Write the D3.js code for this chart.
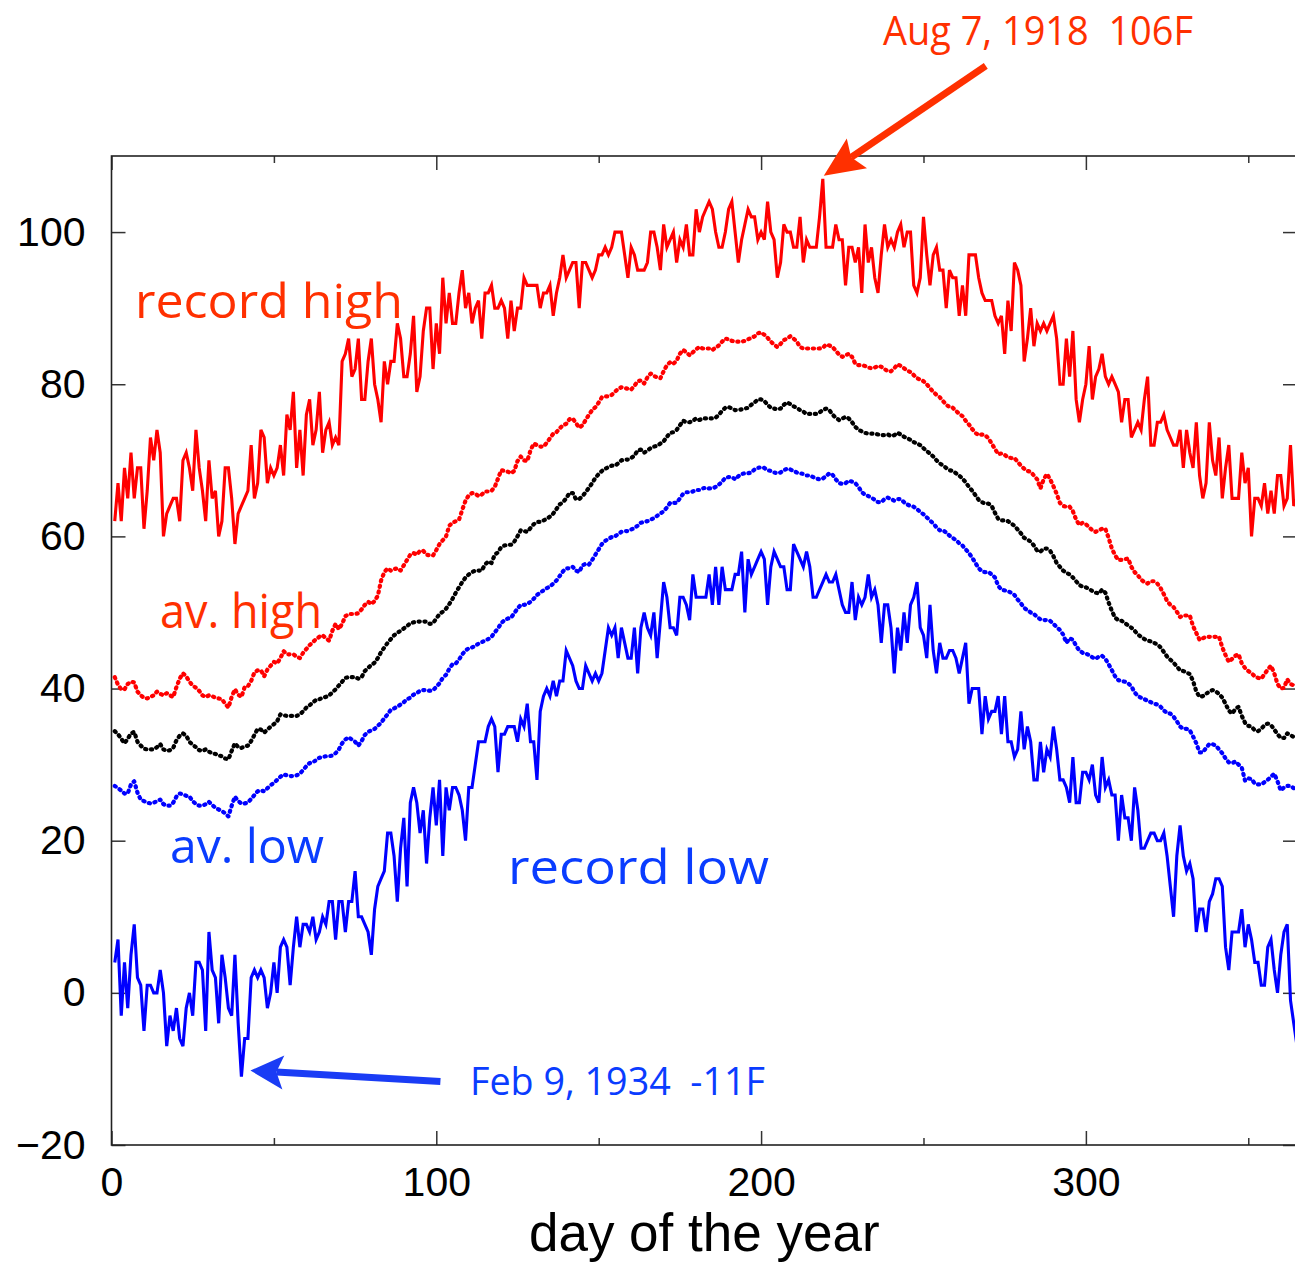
<!DOCTYPE html>
<meta charset="utf-8">
<style>
    body { margin: 0; background: #ffffff; }
    svg { display: block; background: #ffffff; }
</style>

<script src="https://d3js.org/d3.v7.min.js"></script>

<svg id="chart" width="1295" height="1263"></svg>

<script>

// Data: one value per day of the year (deg F)

var days = d3.range(1, 366);

var recordHigh = [
    62,67,62,69,65,71,65,69,69,61,
    66,73,70,74,71,60,63,64,65,65,
    62,70,71,69,66,74,69,66,62,70,
    65,66,60,62,69,69,65,59,63,64,
    65,66,72,65,67,74,73,67,69,68,
    69,72,68,76,74,79,69,74,68,76,
    78,72,74,79,71,74,75,72,73,72,
    83,84,86,81,82,86,78,78,83,86,
    80,78,75,83,80,83,83,88,86,81,
    81,84,89,79,81,87,90,90,82,88,
    84,94,88,92,88,88,92,95,90,92,
    88,90,91,86,92,92,93,90,90,91,
    90,86,91,87,90,90,94,93,93,93,
    93,90,92,92,93,89,92,94,97,94,
    95,96,96,90,96,96,95,94,95,97,
    97,98,97,98,100,100,100,97,94,98,
    97,95,95,95,96,100,100,98,95,101,
    98,99,100,96,99,98,101,97,97,103,
    100,102,103,104,103,100,98,98,100,103,
    104,100,96,99,101,103,102,102,99,100,
    99,104,100,99,94,96,101,100,100,98,
    98,102,96,99,98,98,98,102,107,98,
    98,98,101,99,99,93,98,98,96,98,
    92,101,96,98,94,92,97,101,98,99,
    98,100,101,98,100,100,93,92,94,102,
    97,93,97,98,95,95,90,95,94,94,
    89,93,89,97,97,97,94,92,91,91,
    91,89,88,89,84,91,87,96,95,93,
    83,86,90,85,88,87,88,87,88,89,
    86,80,80,86,81,87,78,75,78,80,
    85,78,81,82,84,81,80,81,80,79,
    75,78,78,73,74,75,74,78,81,72,
    72,75,75,76,74,73,72,72,74,69,
    74,71,69,75,68,65,67,75,70,68,
    73,65,69,72,65,65,65,71,67,69,
    60,65,65,64,67,63,66,63,68,68,
    64,65,72,64,65
];

var avHigh = [
    41.5,40.5,39.9,39.9,40.6,40.9,40.8,39.6,39.1,38.8,
    38.7,38.9,39.1,39.6,39.3,39.1,39.4,39.1,38.9,40.2,
    41.3,42.0,41.6,40.9,40.4,40.1,39.7,39.1,38.9,39.1,
    39.0,38.8,38.7,38.6,38.0,37.5,38.9,39.9,39.2,38.9,
    40.2,40.3,41.0,42.1,42.4,42.4,41.6,42.5,43.0,43.5,
    43.3,44.0,44.9,44.5,44.5,44.5,44.2,44.0,44.7,45.2,
    45.7,46.1,46.5,46.8,47.0,46.6,46.3,47.6,48.5,47.8,
    48.5,49.5,49.8,49.8,49.8,49.9,50.4,51.0,51.4,51.1,
    51.5,52.2,54.2,55.3,55.8,55.5,55.7,55.8,55.5,56.2,
    56.9,57.6,57.8,57.6,58.1,58.1,57.6,57.5,57.5,58.2,
    59.0,59.5,60.0,61.4,61.8,62.0,62.2,63.5,64.7,65.4,
    65.7,65.6,65.3,65.5,65.9,65.9,66.0,66.5,67.6,68.7,
    68.6,68.5,68.3,68.6,69.9,70.5,70.0,69.9,71.3,72.2,
    72.0,71.8,71.8,72.3,72.9,73.5,73.7,74.2,74.6,74.8,
    75.4,75.5,74.9,74.3,74.6,75.3,76.0,76.6,77.0,77.6,
    78.3,78.4,78.4,78.6,79.0,79.4,79.6,79.5,79.4,79.3,
    79.8,80.4,80.5,80.1,80.9,81.4,81.1,80.9,80.8,81.7,
    82.5,82.9,82.7,83.1,84.0,84.5,84.2,83.8,84.2,84.6,
    84.9,84.7,84.7,84.7,84.5,84.8,85.1,85.6,86.0,85.9,
    85.7,85.6,85.6,85.6,85.7,85.9,86.1,86.3,86.7,86.8,
    86.5,86.1,85.6,85.2,84.9,85.3,85.8,86.0,86.3,86.0,
    85.6,84.9,84.7,84.7,84.7,84.7,84.7,84.7,84.8,85.2,
    85.1,84.9,84.4,83.9,83.6,83.8,84.0,83.6,82.7,82.5,
    82.5,82.4,82.2,82.1,82.2,82.4,82.3,82.0,81.7,81.7,
    82.1,82.6,82.4,82.1,81.8,81.6,81.2,80.8,80.6,80.4,
    80.0,79.5,79.0,78.6,78.3,77.8,77.3,77.0,76.9,76.5,
    76.1,75.8,75.2,74.7,74.1,73.6,73.3,73.4,73.3,72.9,
    72.2,71.5,70.8,70.9,70.7,70.4,70.3,70.3,69.8,69.3,
    68.9,68.6,68.5,68.0,67.5,66.3,67.5,68.2,67.5,66.6,
    65.6,64.4,64.0,63.9,63.9,63.3,62.2,61.5,61.8,61.6,
    61.2,60.8,60.6,60.8,61.0,61.0,59.8,58.4,57.5,56.9,
    56.9,57.0,57.1,56.0,55.3,54.9,54.3,54.0,53.8,54.1,
    54.1,53.8,53.2,52.4,51.5,51.0,50.7,50.1,49.4,49.6,
    49.6,49.6,48.2,47.3,46.4,46.6,46.8,46.8,46.8,46.8,
    46.8,45.4,44.4,43.5,43.9,44.3,44.5,43.3,42.7,42.3,
    42.0,41.6,41.4,41.3,41.9,42.5,43.0,42.0,40.6,40.0,
    40.1,41.2,40.6,40.4,40.5
];

var dailyMean = [
    34.4,34.0,33.4,32.8,33.4,34.1,34.3,33.0,32.5,32.1,
    32.0,32.0,32.0,32.3,32.7,32.0,31.8,31.9,32.2,33.2,
    33.8,34.1,33.8,33.0,32.6,32.3,31.9,31.8,32.0,31.7,
    31.5,31.4,31.2,31.1,30.8,30.7,31.8,32.8,32.3,32.2,
    32.4,32.5,33.1,33.9,34.7,34.6,34.2,34.6,35.0,35.3,
    35.7,36.6,36.5,36.4,36.4,36.4,36.4,36.6,37.0,37.5,
    37.8,38.2,38.5,38.6,38.8,38.9,39.1,39.5,39.9,40.4,
    40.9,41.4,41.5,41.5,41.5,41.3,41.5,42.3,42.7,43.1,
    43.4,44.0,44.8,45.4,46.0,46.5,47.0,47.3,47.6,47.9,
    48.2,48.6,48.7,48.8,48.8,48.8,48.8,48.5,48.6,49.2,
    49.8,50.1,50.5,51.1,51.8,52.6,53.3,54.0,54.6,55.0,
    55.3,55.5,55.5,55.5,56.3,56.7,56.5,57.6,57.9,58.6,
    58.8,58.9,58.9,59.3,60.0,60.8,60.7,60.6,61.1,61.6,
    61.9,61.9,62.1,62.3,62.6,63.0,63.6,64.2,64.5,65.0,
    65.7,65.7,64.9,64.9,65.3,65.8,66.4,67.0,67.7,68.2,
    68.6,68.9,69.1,69.3,69.3,69.6,70.0,70.1,70.1,70.3,
    70.6,71.3,71.4,71.0,71.3,71.6,71.8,71.9,72.2,72.5,
    73.1,73.6,73.7,74.0,74.6,75.2,75.0,75.0,75.2,75.5,
    75.3,75.5,75.5,75.5,75.5,75.6,76.0,76.5,76.9,77.0,
    76.8,76.6,76.6,76.7,76.8,76.9,77.3,77.6,78.0,78.0,
    77.8,77.3,76.9,76.8,76.7,76.8,77.3,77.6,77.4,77.1,
    76.9,76.6,76.4,76.1,76.1,76.1,76.1,76.3,76.6,76.8,
    76.6,76.0,75.6,75.3,75.5,75.7,75.5,75.0,74.4,74.0,
    73.8,73.6,73.5,73.5,73.5,73.4,73.3,73.3,73.4,73.2,
    73.3,73.6,73.4,73.1,72.9,72.7,72.4,72.2,72.0,71.6,
    71.2,70.9,70.5,70.0,69.6,69.3,69.0,68.7,68.6,68.3,
    68.0,67.6,67.1,66.5,66.0,65.4,64.8,64.5,64.3,64.3,
    64.0,63.1,62.3,62.1,62.1,62.0,61.7,61.4,60.9,60.4,
    59.8,59.6,59.3,58.8,58.1,58.0,58.4,58.4,58.1,57.4,
    56.5,56.0,55.5,55.2,55.0,54.6,54.1,53.6,53.4,53.3,
    53.1,52.8,52.6,52.5,53.0,52.6,51.3,50.2,49.3,49.0,
    48.9,48.6,48.3,48.0,47.6,47.1,46.8,46.5,46.3,46.2,
    46.0,45.8,45.4,44.8,44.2,43.8,43.4,42.9,42.4,42.3,
    42.1,41.9,41.0,39.6,38.9,39.0,39.3,39.6,39.8,39.6,
    39.3,38.8,38.0,37.1,36.7,37.3,37.6,36.4,35.5,35.1,
    35.0,34.5,34.4,34.7,35.2,35.4,35.2,34.6,34.0,33.5,
    33.5,34.1,33.9,33.6,33.7
];

var avLow = [
    27.2,26.9,26.6,26.2,26.2,27.4,27.8,26.3,25.4,25.2,
    25.0,24.9,25.0,25.2,25.4,24.8,24.6,24.6,25.0,25.8,
    26.2,26.1,25.9,25.8,25.2,24.8,24.6,24.6,24.8,25.1,
    24.7,24.3,24.1,23.9,23.6,23.2,24.6,25.8,25.2,24.9,
    24.9,25.0,25.5,26.0,26.5,26.6,26.5,26.9,27.3,27.6,
    28.0,28.4,28.7,28.6,28.5,28.5,28.6,28.8,29.3,29.8,
    30.2,30.3,30.6,30.9,31.0,31.1,31.1,31.2,31.5,32.0,
    32.8,33.3,33.6,33.3,33.0,32.5,33.1,33.9,34.3,34.5,
    34.7,35.1,35.5,36.1,36.6,37.2,37.4,37.6,37.9,38.2,
    38.6,38.8,39.2,39.4,39.7,39.8,39.8,39.7,39.8,40.2,
    40.7,41.4,41.8,42.6,43.2,43.3,43.8,44.5,45.0,45.3,
    45.4,45.6,45.9,46.1,46.3,46.5,46.8,47.4,47.9,48.6,
    49.0,49.2,49.3,49.9,50.5,51.0,51.0,51.1,51.4,51.8,
    52.3,52.6,52.9,53.2,53.4,53.8,54.2,54.8,55.4,55.8,
    55.8,56.0,55.5,55.3,56.2,56.4,56.3,56.9,57.6,58.3,
    59.0,59.4,59.7,59.9,60.0,60.3,60.6,60.7,60.7,60.9,
    61.1,61.4,61.8,61.9,62.0,62.2,62.4,62.7,63.0,63.3,
    63.8,64.4,64.4,64.4,65.0,65.6,65.8,65.8,65.9,66.1,
    66.1,66.3,66.4,66.3,66.3,66.5,66.8,67.2,67.7,67.8,
    67.8,67.5,67.9,68.2,68.3,68.3,68.4,68.8,69.0,69.1,
    69.0,68.7,68.6,68.4,68.3,68.4,68.7,68.9,68.8,68.6,
    68.4,68.3,68.2,68.0,68.0,67.8,67.6,67.5,67.6,67.9,
    68.3,68.1,67.5,67.0,66.9,67.0,67.3,67.2,67.0,66.5,
    65.8,65.5,65.3,65.1,64.8,64.5,64.5,64.9,65.1,64.9,
    64.7,64.9,64.9,64.5,64.2,64.0,63.9,63.6,63.2,62.9,
    62.5,62.1,61.7,61.2,60.8,60.8,60.5,60.1,59.8,59.5,
    59.1,58.8,58.3,57.8,57.2,56.5,55.8,55.4,55.3,55.3,
    55.0,54.6,53.5,53.0,52.9,52.8,52.6,52.3,51.7,51.2,
    50.6,50.3,50.0,49.8,49.4,49.1,49.0,49.0,48.9,48.5,
    48.1,47.7,47.1,46.0,46.6,46.4,45.6,45.0,44.7,44.6,
    44.4,44.1,43.9,44.2,44.3,43.9,43.2,42.4,41.6,41.1,
    41.0,40.9,40.7,40.3,39.5,39.0,38.8,38.6,38.4,38.2,
    38.0,37.9,37.6,37.1,36.8,36.7,36.3,35.7,35.0,34.7,
    34.7,34.5,33.7,32.8,31.6,31.6,32.2,32.7,32.7,32.5,
    32.0,31.5,30.8,30.3,30.2,30.4,30.0,29.6,27.9,28.2,
    28.1,27.5,27.4,27.4,27.7,28.0,28.4,28.8,27.8,26.6,
    27.0,27.2,27.2,26.9,26.9
];

var recordLow = [
    4,7,-3,4,-2,5,9,2,1,-5,
    1,1,0,0,3,0,-7,-3,-5,-2,
    -6,-7,-2,0,-3,4,4,3,-5,8,
    3,2,-4,5,2,-2,-3,5,-4,-11,
    -6,-6,2,3,2,3,2,-2,0,4,
    0,6,7,6,1,6,10,6,9,9,
    8,10,7,8,10,9,12,12,7,12,
    12,8,12,12,16,10,10,9,8,5,
    11,14,15,16,21,21,18,12,19,23,
    14,25,27,25,21,24,17,23,27,22,
    28,18,27,24,27,27,26,24,20,27,
    27,30,33,33,33,35,36,35,29,34,
    34,35,35,35,33,36,35,38,33,33,
    28,37,39,40,39,41,39,41,41,45,
    44,43,41,40,40,43,42,41,42,41,
    42,45,48,47,48,44,48,46,44,44,
    48,42,48,50,48,47,50,44,49,54,
    52,48,48,47,52,52,51,49,55,52,
    52,52,52,55,51,56,51,56,53,53,
    53,55,55,58,50,57,55,56,57,58,
    57,51,56,58,57,56,56,53,53,59,
    58,57,56,58,56,52,52,53,54,55,
    54,54,55,53,51,50,50,54,49,52,
    51,52,55,52,53,51,46,51,51,48,
    42,48,45,50,46,51,52,54,48,47,
    44,51,45,42,46,44,44,45,45,44,
    42,44,46,38,40,40,40,34,39,36,
    37,37,39,34,39,33,33,31,32,37,
    32,35,33,28,28,33,29,32,31,35,
    32,28,28,27,25,31,25,25,29,29,
    28,30,26,25,31,27,28,26,26,20,
    26,23,23,20,27,24,19,19,20,21,
    21,20,20,21,18,14,10,18,22,18,
    16,17,15,8,11,11,8,12,13,15,
    15,14,6,3,8,8,8,11,6,9,
    7,4,4,1,1,6,7,3,0,5,
    8,9,-1,-4,-7
];

var yTicks = [-20, 0, 20, 40, 60, 80, 100];
var xTicks = [0, 100, 200, 300];
var xMinorTicks = [50, 150, 250, 350];

// Record days that get an arrow: day of year and label text
var hotDay = 219, hotLabel = 'Aug 7, 1918  106F';
var coldDay = 40, coldLabel = 'Feb 9, 1934  -11F';


// Setup  (note: 'top' is a read-only window property, so plot* names are used)

var svg = d3.select('svg#chart');

var plotLeft = 111.5, plotRight = 1297, plotTop = 156, plotBottom = 1145;

var x = d3.scaleLinear().domain([0, 365]).range([plotLeft, plotRight]);
var y = d3.scaleLinear().domain([-20, 110]).range([plotBottom, plotTop]);

var axisFont = '"Liberation Sans", Arial, Helvetica, sans-serif';
var labelFont = '"Open Sans", "Noto Sans", sans-serif';

var red = '#ff0000', blue = '#0000ff';
var redText = '#ff3000', blueText = '#0a3cff';


// Axes: ticks point inwards, labels only on left and bottom

var styleAxis = function (g) {
    g.select('.domain').remove();
    g.selectAll('.tick line').attr('stroke', '#333').attr('stroke-width', 1.5);
    g.selectAll('.tick text')
        .attr('font-family', axisFont)
        .attr('font-size', 41)
        .attr('fill', '#000');
};

svg.append('g')
    .attr('transform', 'translate(' + plotLeft + ',0)')
    .call(d3.axisLeft(y).tickValues(yTicks).tickSize(-14).tickPadding(26))
    .call(styleAxis);

svg.append('g')
    .attr('transform', 'translate(' + plotRight + ',0)')
    .call(d3.axisRight(y).tickValues(yTicks).tickSize(-14).tickFormat(''))
    .call(styleAxis);

svg.append('g')
    .attr('transform', 'translate(0,' + plotBottom + ')')
    .call(d3.axisBottom(x).tickValues(xTicks).tickSize(-14).tickPadding(22))
    .call(styleAxis);

svg.append('g')
    .attr('transform', 'translate(0,' + plotBottom + ')')
    .call(d3.axisBottom(x).tickValues(xMinorTicks).tickSize(-7).tickFormat(''))
    .call(styleAxis);

svg.append('g')
    .attr('transform', 'translate(0,' + plotTop + ')')
    .call(d3.axisTop(x).tickValues(xTicks).tickSize(-14).tickFormat(''))
    .call(styleAxis);

svg.append('g')
    .attr('transform', 'translate(0,' + plotTop + ')')
    .call(d3.axisTop(x).tickValues(xMinorTicks).tickSize(-7).tickFormat(''))
    .call(styleAxis);

svg.append('rect')
    .attr('x', plotLeft).attr('y', plotTop)
    .attr('width', plotRight - plotLeft).attr('height', plotBottom - plotTop)
    .attr('fill', 'none')
    .attr('stroke', '#222')
    .attr('stroke-width', 1.6);

svg.append('text')
    .attr('x', (plotLeft + plotRight) / 2)
    .attr('y', 1251)
    .attr('text-anchor', 'middle')
    .attr('font-family', axisFont)
    .attr('font-size', 53)
    .text('day of the year');


// Series

var line = d3.line()
    .x(function (d, i) { return x(days[i]); })
    .y(function (d) { return y(d); });

var drawSeries = function (values, color, dotted) {
    var path = svg.append('path')
        .datum(values)
        .attr('d', line)
        .attr('fill', 'none')
        .attr('stroke', color);
    if (dotted) {
        path.attr('stroke-width', 4.2)
            .attr('stroke-linejoin', 'round')
            .attr('stroke-linecap', 'round')
            .attr('stroke-dasharray', '1.2,4.6');
    } else {
        path.attr('stroke-width', 3.1)
            .attr('stroke-linejoin', 'miter');
    }
};

drawSeries(recordHigh, red, false);
drawSeries(avHigh, red, true);
drawSeries(dailyMean, '#000', true);
drawSeries(avLow, blue, true);
drawSeries(recordLow, blue, false);


// Labels

var addLabel = function (text, x0, baseline, width, size, color) {
    svg.append('text')
        .attr('x', x0)
        .attr('y', baseline)
        .attr('font-family', labelFont)
        .attr('font-size', size)
        .attr('fill', color)
        .attr('textLength', width)
        .attr('lengthAdjust', 'spacingAndGlyphs')
        .style('white-space', 'pre')
        .text(text);
};

addLabel('record high', 135, 318, 268, 47, redText);
addLabel('av. high', 160, 628, 162, 48, redText);
addLabel('av. low', 170, 863, 154, 48, blueText);
addLabel('record low', 508, 884, 261, 48, blueText);
addLabel(hotLabel, 883, 45, 310, 41, redText);
addLabel(coldLabel, 470, 1095, 295, 39, blueText);


// Arrows pointing at the two records

var arrow = function (tip, tail, color, headLen, headHalf, notch) {
    var dx = tail[0] - tip[0], dy = tail[1] - tip[1];
    var len = Math.sqrt(dx * dx + dy * dy);
    var u = [dx / len, dy / len];
    var n = [-u[1], u[0]];
    var back = [tip[0] + u[0] * headLen, tip[1] + u[1] * headLen];
    var mid = [tip[0] + u[0] * (headLen - notch), tip[1] + u[1] * (headLen - notch)];

    svg.append('line')
        .attr('x1', mid[0]).attr('y1', mid[1])
        .attr('x2', tail[0]).attr('y2', tail[1])
        .attr('stroke', color)
        .attr('stroke-width', 7);

    svg.append('path')
        .attr('d', 'M ' + tip
            + ' L ' + [back[0] + n[0] * headHalf, back[1] + n[1] * headHalf]
            + ' L ' + mid
            + ' L ' + [back[0] - n[0] * headHalf, back[1] - n[1] * headHalf]
            + ' Z')
        .attr('fill', color);
};

var hotTip = [x(hotDay) + 1, y(recordHigh[hotDay - 1]) - 3];
arrow(hotTip, [hotTip[0] + 162, hotTip[1] - 110], redText, 40, 18, 7);

var coldTip = [x(coldDay) + 9, y(recordLow[coldDay - 1]) - 6];
arrow(coldTip, [coldTip[0] + 190, coldTip[1] + 11], '#1a3cf5', 33, 17, 7);

</script>
